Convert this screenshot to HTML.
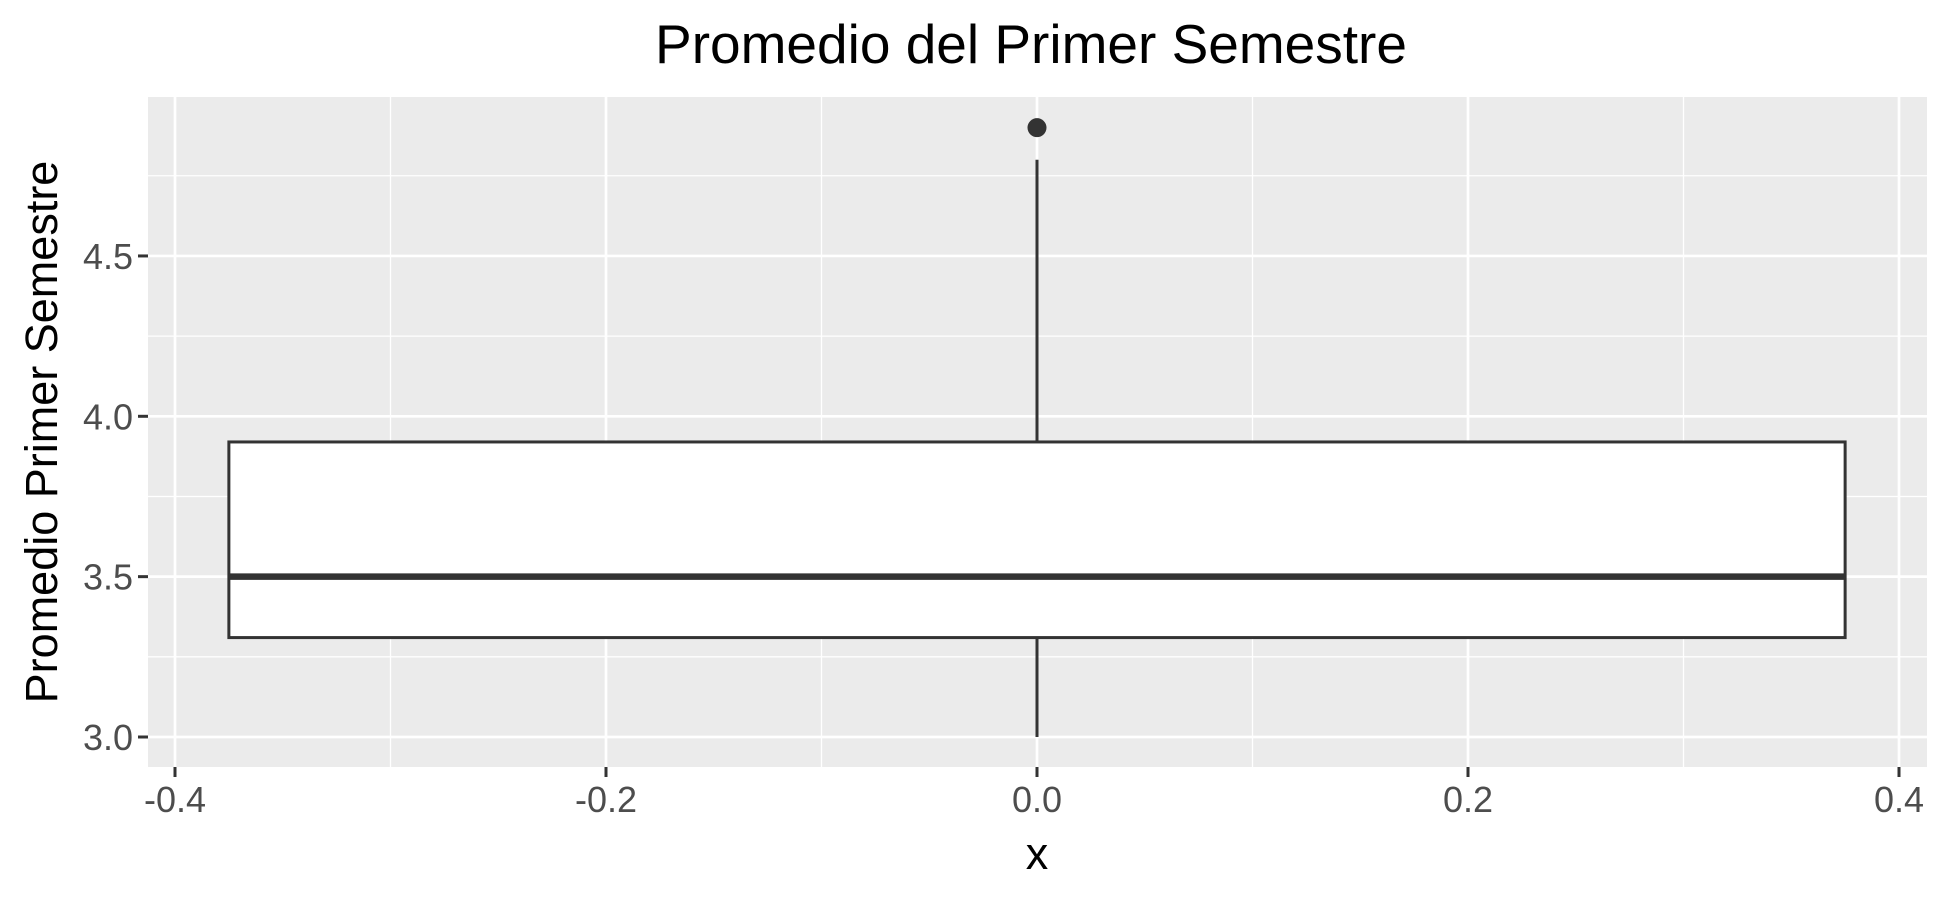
<!DOCTYPE html>
<html><head><meta charset="utf-8"><style>body{margin:0;background:#fff}svg{display:block}text{font-family:"Liberation Sans",Arial,sans-serif}</style></head>
<body>
<svg id="chart" width="1950" height="900" viewBox="0 0 1950 900" xmlns="http://www.w3.org/2000/svg">
<text x="1031" y="63" font-size="55" text-anchor="middle" fill="#000">Promedio del Primer Semestre</text>
<rect x="148" y="97" width="1779" height="670" fill="#ebebeb"/>
<g id="grid"></g>
<g id="marks"></g>
<g id="axes"></g>
<text x="1037" y="869" font-size="45" text-anchor="middle" fill="#000">x</text>
<text transform="translate(57,432) rotate(-90)" font-size="45" text-anchor="middle" fill="#000">Promedio Primer Semestre</text>
</svg>
<script>
const xTicks=[-0.4,-0.2,0.0,0.2,0.4];
const xTickLabels=["-0.4","-0.2","0.0","0.2","0.4"];
const xMinor=[-0.3,-0.1,0.1,0.3];
const yTicks=[3.0,3.5,4.0,4.5];
const yTickLabels=["3.0","3.5","4.0","4.5"];
const yMinor=[3.25,3.75,4.25,4.75];
const boxStats=[3.0,3.31,3.5,3.92,4.80];
const outliers=[4.90];
const boxHalfWidth=[0.375];
const NS="http://www.w3.org/2000/svg";
const X=v=>1037+v*2155;
const Y=v=>737-(v-3)*320.7;
const L=148,R=1927,T=97,B=767;
function mk(t,a,p){const e=document.createElementNS(NS,t);for(const k in a)e.setAttribute(k,a[k]);p.appendChild(e);return e;}
const g=document.getElementById('grid'),m=document.getElementById('marks'),ax=document.getElementById('axes');
xMinor.forEach(v=>{const e=mk('line',{x1:X(v),x2:X(v),y1:T,y2:B,stroke:'#fff','stroke-width':1.3},g);

});
yMinor.forEach(v=>{const e=mk('line',{x1:L,x2:R,y1:Y(v),y2:Y(v),stroke:'#fff','stroke-width':1.3},g);

});
xTicks.forEach((v,i)=>{const e=mk('line',{x1:X(v),x2:X(v),y1:T,y2:B,stroke:'#fff','stroke-width':2.7},g);


const t=mk('line',{x1:X(v),x2:X(v),y1:B,y2:B+10,stroke:'#333','stroke-width':3},ax);


const l=mk('text',{x:X(v),y:B+45,'font-size':36,'text-anchor':'middle',fill:'#4d4d4d'},ax);l.textContent=xTickLabels[i];

});
yTicks.forEach((v,i)=>{const e=mk('line',{x1:L,x2:R,y1:Y(v),y2:Y(v),stroke:'#fff','stroke-width':2.7},g);


const t=mk('line',{x1:L-10,x2:L,y1:Y(v),y2:Y(v),stroke:'#333','stroke-width':3},ax);


const l=mk('text',{x:L-15,y:Y(v)+13,'font-size':36,'text-anchor':'end',fill:'#4d4d4d'},ax);l.textContent=yTickLabels[i];

});
const [mn,q1,med,q3,mx]=boxStats,hw=boxHalfWidth[0];
const w1=mk('line',{x1:X(0),x2:X(0),y1:Y(q3),y2:Y(mx),stroke:'#333','stroke-width':3},m);


const w2=mk('line',{x1:X(0),x2:X(0),y1:Y(q1),y2:Y(mn),stroke:'#333','stroke-width':3},m);


const bx=mk('rect',{x:X(-hw),y:Y(q3),width:X(hw)-X(-hw),height:Y(q1)-Y(q3),fill:'#fff',stroke:'#333','stroke-width':3},m);


const md=mk('line',{x1:X(-hw),x2:X(hw),y1:Y(med),y2:Y(med),stroke:'#333','stroke-width':6.5},m);


outliers.forEach(v=>{const c=mk('circle',{cx:X(0),cy:Y(v),r:9.5,fill:'#333'},m);

});
</script>
</body></html>
